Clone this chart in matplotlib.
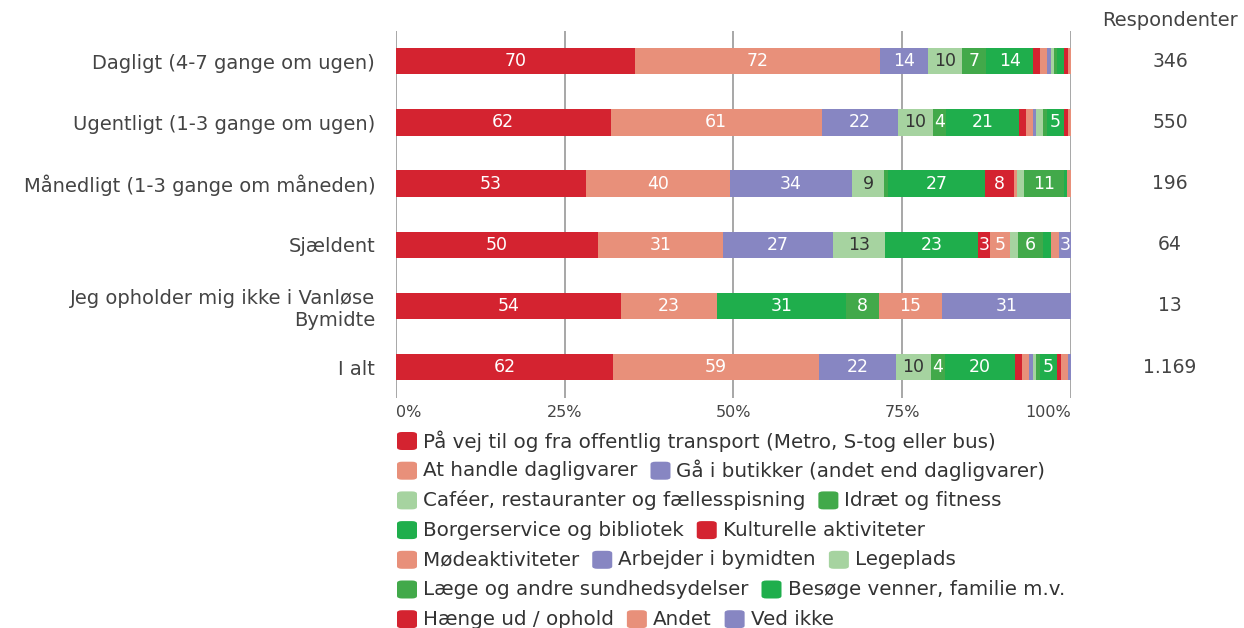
import matplotlib.pyplot as plt
import matplotlib.transforms as mtransforms
from matplotlib.patches import FancyBboxPatch
import numpy as np

plt.rcParams['font.family'] = ['DejaVu Sans']

# - DATA -
rows = ['Dagligt (4-7 gange om ugen)', 'Ugentligt (1-3 gange om ugen)',
        'Månedligt (1-3 gange om måneden)', 'Sjældent',
        'Jeg opholder mig ikke i Vanløse\nBymidte', 'I alt']
respondenter = ['346', '550', '196', '64', '13', '1.169']

categories = ['På vej til og fra offentlig transport (Metro, S-tog eller bus)',
              'At handle dagligvarer', 'Gå i butikker (andet end dagligvarer)',
              'Caféer, restauranter og fællesspisning', 'Idræt og fitness',
              'Borgerservice og bibliotek', 'Kulturelle aktiviteter',
              'Mødeaktiviteter', 'Arbejder i bymidten', 'Legeplads',
              'Læge og andre sundhedsydelser', 'Besøge venner, familie m.v.',
              'Hænge ud / ophold', 'Andet', 'Ved ikke']

paa_vej = [70, 62, 53, 50, 54, 62]
handle = [72, 61, 40, 31, 23, 59]
butikker = [14, 22, 34, 27, 0, 22]
cafeer = [10, 10, 9, 13, 0, 10]
idraet = [7, 4, 1, 0, 0, 4]
borgerservice = [14, 21, 27, 23, 31, 20]
kultur = [2, 2, 8, 3, 0, 2]
moede = [2, 2, 1, 5, 0, 2]
arbejder = [1, 1, 0, 0, 0, 1]
legeplads = [1, 2, 2, 2, 0, 1]
laege = [1, 1, 11, 6, 8, 1]
besoege = [2, 5, 1, 2, 0, 5]
haenge = [1, 1, 0, 0, 0, 1]
andet = [1, 1, 1, 2, 15, 2]
ved_ikke = [0, 0, 0, 3, 31, 1]

legend_rows = [[0], [1, 2], [3, 4], [5, 6], [7, 8, 9], [10, 11], [12, 13, 14]]
# - DATA -

series = [paa_vej, handle, butikker, cafeer, idraet, borgerservice, kultur,
          moede, arbejder, legeplads, laege, besoege, haenge, andet, ved_ikke]
palette = ['#D42330', '#E8907A', '#8786C2', '#A6D3A0', '#42A94A', '#1FAE4C']
colors = [palette[i % 6] for i in range(len(series))]

W, H = 1244, 628
fig = plt.figure(figsize=(W / 100, H / 100), dpi=100)
ax = fig.add_axes([396 / W, 1 - 397.6 / H, 675 / W, 367 / H])

data = np.array(series, dtype=float)
totals = data.sum(axis=0)
y = np.arange(len(rows))
left = np.zeros(len(rows))
for i, vals in enumerate(data):
    w = vals / totals
    ax.barh(y, w, left=left, height=0.43, color=colors[i], zorder=2)
    for j in range(len(rows)):
        if vals[j] >= 3:
            tc = '#333333' if colors[i] == '#A6D3A0' else 'white'
            ax.text(left[j] + w[j] / 2, y[j], '%d' % vals[j], ha='center',
                    va='center', color=tc, fontsize=12.5, zorder=3)
    left += w

ax.set_ylim(len(rows) - 0.5, -0.5)
ax.set_xlim(0, 1)
ax.set_yticks(y)
ax.set_yticklabels(rows, fontsize=14, color='#444444')
ax.tick_params(axis='y', length=0, pad=15)
ax.set_xticks([0, 0.25, 0.5, 0.75, 1])
ax.set_xticklabels(['0%', '25%', '50%', '75%', '100%'], fontsize=11.5, color='#444444')
ax.tick_params(axis='x', length=0, pad=5)
labs = ax.get_xticklabels()
labs[0].set_ha('left')
labs[-1].set_ha('right')
for s in ax.spines.values():
    s.set_visible(False)
ax.grid(axis='x', color='#a0a0a0', linewidth=1.3, zorder=0)

# Respondenter column
tr = mtransforms.blended_transform_factory(fig.transFigure, ax.transData)
for j, r in enumerate(respondenter):
    ax.text(1170 / W, y[j], r, transform=tr, ha='center', va='center',
            fontsize=13.5, color='#444444')
fig.text(1170 / W, 1 - 20 / H, 'Respondenter', ha='center', va='center',
         fontsize=14, color='#444444')

# legend
renderer = fig.canvas.get_renderer()
for k, items in enumerate(legend_rows):
    yc = 441 + k * 29.7
    x = 397
    for i in items:
        box = FancyBboxPatch((x / W, 1 - (yc + 9) / H), 20 / W, 18 / H,
                             boxstyle='round,pad=0,rounding_size=0.004',
                             transform=fig.transFigure, color=colors[i],
                             linewidth=0)
        fig.patches.append(box)
        t = fig.text((x + 26) / W, 1 - yc / H, categories[i], ha='left',
                     va='center', fontsize=14.3, color='#333333')
        bb = t.get_window_extent(renderer)
        x = bb.x1 + 13

fig.savefig('out.png', dpi=100)
